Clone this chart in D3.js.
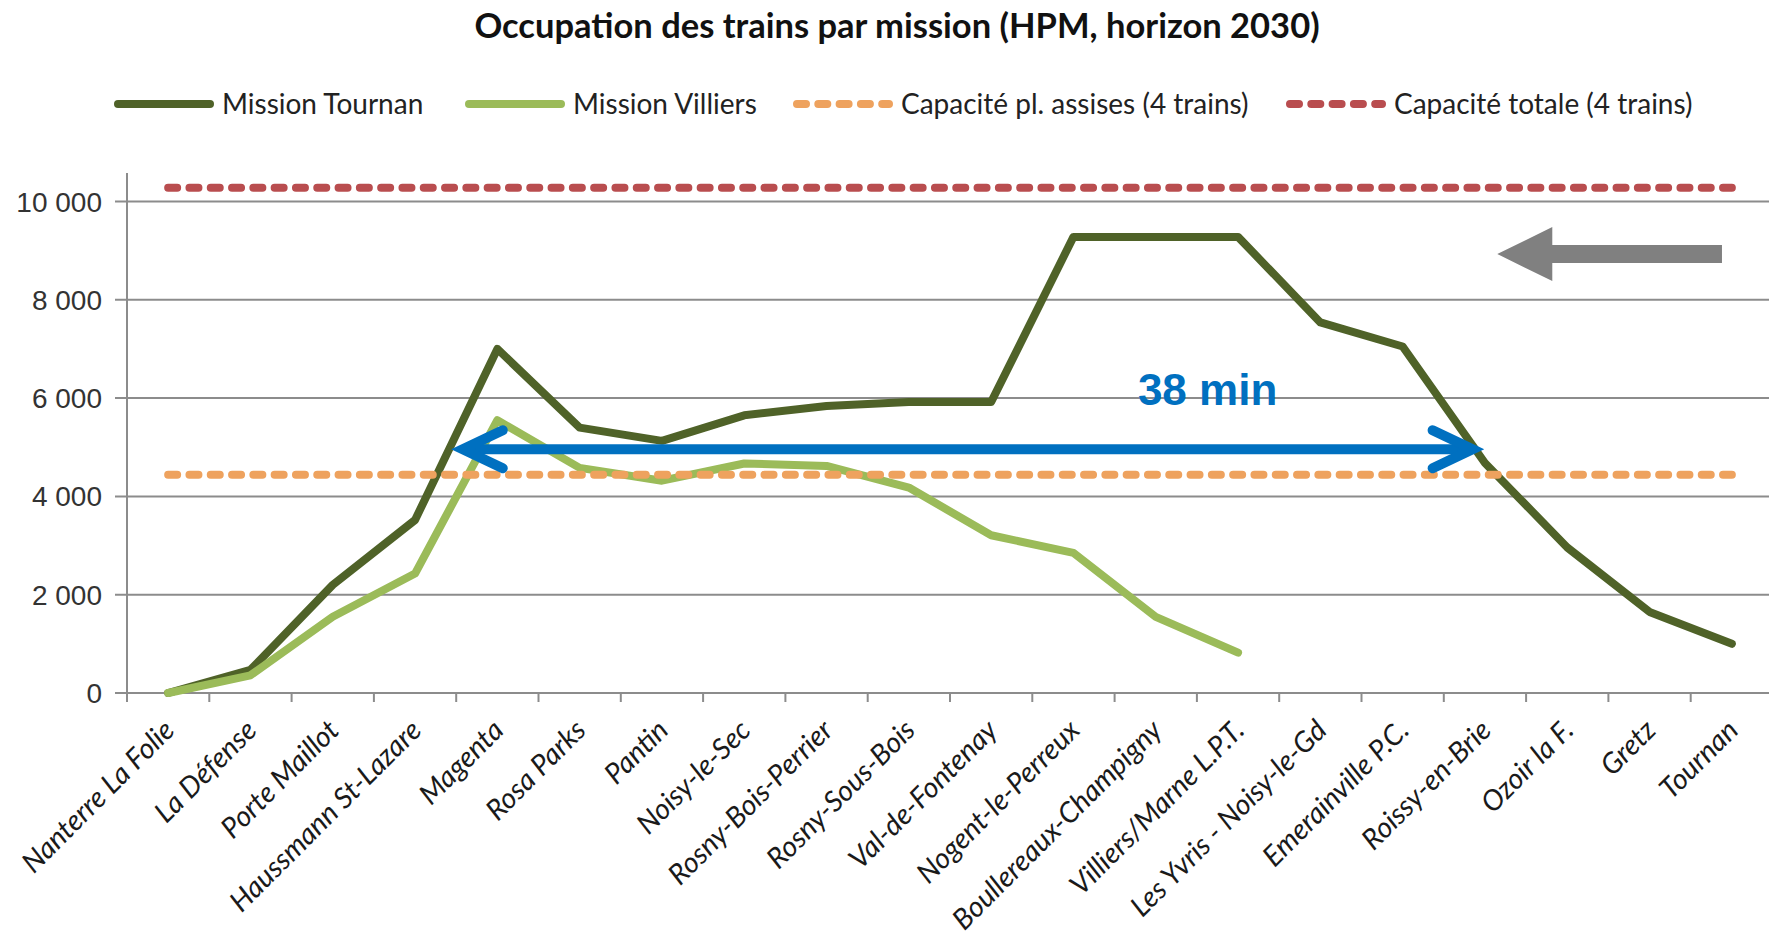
<!DOCTYPE html>
<html>
<head>
<meta charset="utf-8">
<script src="https://cdn.jsdelivr.net/npm/d3@7/dist/d3.min.js"></script>
<style>
  body { margin: 0; background: #fff; }
  svg { display: block; }
</style>
</head>
<body>
<div id="chart"></div>
<script>
// stations along the line, west to east
const stations = [
  "Nanterre La Folie", "La Défense", "Porte Maillot", "Haussmann St-Lazare", "Magenta",
  "Rosa Parks", "Pantin", "Noisy-le-Sec", "Rosny-Bois-Perrier", "Rosny-Sous-Bois",
  "Val-de-Fontenay", "Nogent-le-Perreux", "Boullereaux-Champigny", "Villiers/Marne L.P.T.",
  "Les Yvris - Noisy-le-Gd", "Emerainville P.C.", "Roissy-en-Brie", "Ozoir la F.", "Gretz", "Tournan"
];
const tournan = [0, 470, 2200, 3520, 7000, 5400, 5130, 5650, 5840, 5920, 5920, 9280, 9280, 9280, 7540, 7050, 4680, 2960, 1650, 1000];
const villiers = [0, 360, 1550, 2430, 5550, 4580, 4320, 4670, 4620, 4180, 3210, 2850, 1550, 820];
const seatedCapacity = 4440;
const totalCapacity = 10280;
const yTicks = [0, 2000, 4000, 6000, 8000, 10000];
const legendLabels = ["Mission Tournan", "Mission Villiers", "Capacité pl. assises (4 trains)", "Capacité totale (4 trains)"];
const title = "Occupation des trains par mission (HPM, horizon 2030)";

// annotations, in chart units (station index, passengers)
const spanArrow = { from: 3.58, to: 15.85, value: 4960 };
const spanLabel = { text: "38 min", at: 12.63, value: 5860 };
const directionArrow = { tip: 16.15, tail: 18.88, value: 8930 };

const W = 1769, H = 936;
const margin = { left: 127, right: 1773, top: 173, bottom: 693 };

const colors = {
  tournan: "#4f6228",
  villiers: "#9bbb59",
  seated: "#eea25e",
  total: "#b94d4f",
  grid: "#8c8c8c",
  blue: "#0070c0",
  arrow: "#808080"
};

const svg = d3.select("#chart").append("svg")
  .attr("width", W)
  .attr("height", H);

const x = d3.scaleBand().domain(d3.range(stations.length)).range([margin.left, margin.right]).paddingInner(0).paddingOuter(0);
const xi = d3.scaleLinear().domain([-0.5, stations.length - 0.5]).range([margin.left, margin.right]);
const y = d3.scaleLinear().domain([0, 10580]).range([margin.bottom, margin.top]);
const cx = (i) => x(i) + x.bandwidth() / 2;

// title
svg.append("text")
  .attr("x", 897).attr("y", 38)
  .attr("text-anchor", "middle")
  .style("font-family", "Lato, 'Open Sans', sans-serif")
  .style("font-weight", "bold")
  .style("font-size", "34.5px")
  .style("fill", "#111")
  .text(title);

// gridlines
svg.append("g").selectAll("line")
  .data(yTicks)
  .enter().append("line")
  .attr("x1", margin.left - 12).attr("x2", margin.right)
  .attr("y1", (d) => y(d)).attr("y2", (d) => y(d))
  .style("stroke", colors.grid)
  .style("stroke-width", 2);

// y axis labels
svg.append("g").selectAll("text")
  .data(yTicks)
  .enter().append("text")
  .attr("x", 102).attr("y", (d) => y(d))
  .attr("dy", "0.36em")
  .attr("text-anchor", "end")
  .style("font-family", "'Liberation Sans', Arial, sans-serif")
  .style("font-size", "28px")
  .style("fill", "#333")
  .text((d) => d3.format(",")(d).replace(/,/g, " "));

// axis lines
svg.append("line")
  .attr("x1", margin.left).attr("x2", margin.left)
  .attr("y1", margin.top).attr("y2", margin.bottom)
  .style("stroke", colors.grid).style("stroke-width", 2);

svg.append("g").selectAll("line")
  .data(d3.range(stations.length + 1))
  .enter().append("line")
  .attr("x1", (k) => xi(k - 0.5)).attr("x2", (k) => xi(k - 0.5))
  .attr("y1", margin.bottom).attr("y2", margin.bottom + 9)
  .style("stroke", colors.grid).style("stroke-width", 2);

// x labels
svg.append("g").selectAll("text")
  .data(stations)
  .enter().append("text")
  .attr("transform", (d, i) => "translate(" + (cx(i) + 8) + "," + (margin.bottom + 39) + ") rotate(-45)")
  .attr("text-anchor", "end")
  .style("font-family", "Lato, 'Open Sans', sans-serif")
  .style("font-style", "italic")
  .style("font-size", "28.5px")
  .style("fill", "#1a1a1a")
  .text((d) => d);

// series
const line = d3.line()
  .x((d, i) => cx(i))
  .y((d) => y(d));

svg.append("path")
  .datum(tournan)
  .attr("d", line)
  .style("fill", "none")
  .style("stroke", colors.tournan)
  .style("stroke-width", 8)
  .style("stroke-linejoin", "round")
  .style("stroke-linecap", "round");

svg.append("path")
  .datum(villiers)
  .attr("d", line)
  .style("fill", "none")
  .style("stroke", colors.villiers)
  .style("stroke-width", 8)
  .style("stroke-linejoin", "round")
  .style("stroke-linecap", "round");

// capacity lines
[[seatedCapacity, colors.seated], [totalCapacity, colors.total]].forEach(([v, c]) => {
  svg.append("line")
    .attr("x1", cx(0)).attr("x2", cx(stations.length - 1))
    .attr("y1", y(v)).attr("y2", y(v))
    .style("stroke", c)
    .style("stroke-width", 8)
    .style("stroke-linecap", "round")
    .style("stroke-dasharray", "9,12.3");
});

// 38 min arrow
const ay = y(spanArrow.value);
const ax1 = xi(spanArrow.from), ax2 = xi(spanArrow.to);
svg.append("line")
  .attr("x1", ax1 + 6).attr("x2", ax2 - 6)
  .attr("y1", ay).attr("y2", ay)
  .style("stroke", colors.blue).style("stroke-width", 10);

[[ax1, 1], [ax2, -1]].forEach(([tx, dir]) => {
  svg.append("polyline")
    .attr("points", [[tx + dir * 40, ay - 19], [tx, ay], [tx + dir * 40, ay + 19]].map((p) => p.join(",")).join(" "))
    .style("fill", "none")
    .style("stroke", colors.blue)
    .style("stroke-width", 10)
    .style("stroke-linecap", "round")
    .style("stroke-linejoin", "miter");
});

svg.append("text")
  .attr("x", xi(spanLabel.at)).attr("y", y(spanLabel.value))
  .attr("text-anchor", "middle")
  .style("font-family", "'Liberation Sans', Arial, sans-serif")
  .style("font-weight", "bold")
  .style("font-size", "44px")
  .style("fill", colors.blue)
  .text(spanLabel.text);

// direction arrow (grey)
const gy = y(directionArrow.value);
const gt = xi(directionArrow.tip), gb = xi(directionArrow.tail);
svg.append("polygon")
  .attr("points", [
    [gt, gy], [gt + 55, gy - 27], [gt + 55, gy - 9], [gb, gy - 9],
    [gb, gy + 9], [gt + 55, gy + 9], [gt + 55, gy + 27]
  ].map((p) => p.join(",")).join(" "))
  .style("fill", colors.arrow);

// legend
const legendItems = [
  { label: legendLabels[0], color: colors.tournan, dash: null, x: 114 },
  { label: legendLabels[1], color: colors.villiers, dash: null, x: 465 },
  { label: legendLabels[2], color: colors.seated, dash: "9,12.3", x: 793 },
  { label: legendLabels[3], color: colors.total, dash: "9,12.3", x: 1286 }
];

const lg = svg.append("g").selectAll("g")
  .data(legendItems)
  .enter().append("g")
  .attr("transform", (d) => "translate(" + d.x + ",104)");

lg.append("line")
  .attr("x1", 4).attr("x2", 96)
  .style("stroke", (d) => d.color)
  .style("stroke-width", 8)
  .style("stroke-linecap", "round")
  .style("stroke-dasharray", (d) => d.dash);

lg.append("text")
  .attr("x", 108).attr("dy", "0.35em")
  .style("font-family", "Lato, 'Open Sans', sans-serif")
  .style("font-size", "28px")
  .style("fill", "#222")
  .text((d) => d.label);
</script>
</body>
</html>
